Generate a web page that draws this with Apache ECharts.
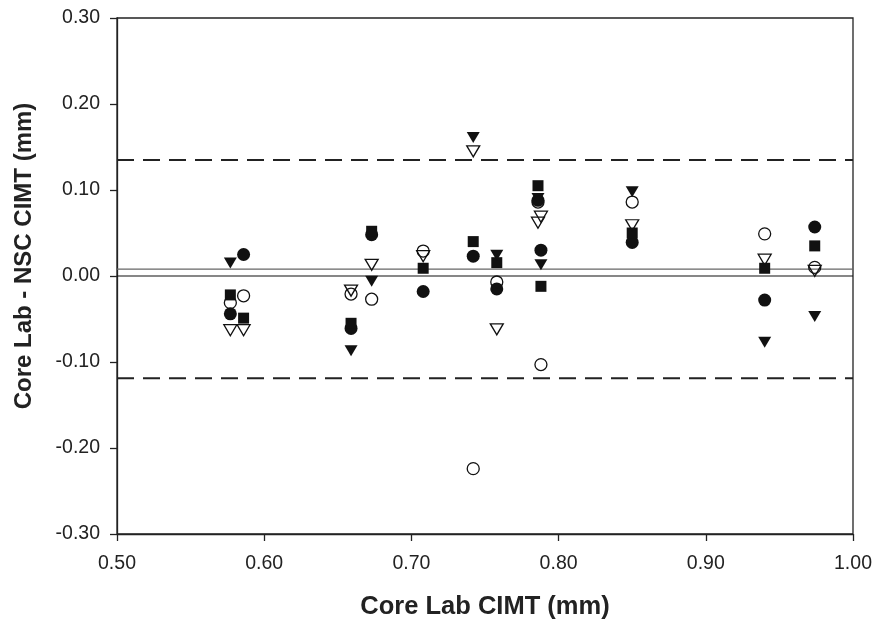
<!DOCTYPE html>
<html>
<head>
<meta charset="utf-8">
<script src="https://cdn.jsdelivr.net/npm/echarts@6/dist/echarts.min.js"></script>
<style>html,body{margin:0;padding:0;background:#fff}#c{width:874px;height:620px}</style>
</head>
<body>
<div id="c"></div>
<script>
// Subject x positions (Core Lab CIMT, mm)
const subjectX = [0.577, 0.586, 0.659, 0.673, 0.708, 0.742, 0.758, 0.786, 0.788, 0.850, 0.940, 0.974];
// Differences (Core Lab - NSC CIMT, mm) per reader series; null = not visible
const filledCircle   = [-0.044, 0.025, -0.061, 0.048, -0.018, 0.023, -0.015, 0.088, 0.030, 0.039, -0.028, 0.057];
const openCircle     = [-0.031, -0.023, -0.021, -0.027, 0.029, -0.224, -0.007, 0.086, -0.103, 0.086, 0.049, 0.010];
const filledSquare   = [-0.022, -0.049, -0.055, 0.052, 0.009, 0.040, 0.0155, 0.105, -0.012, 0.050, 0.009, 0.035];
const filledTriangle = [0.015, null, -0.087, -0.006, null, 0.161, 0.024, 0.090, 0.013, 0.098, -0.077, -0.047];
const openTriangle   = [-0.063, -0.063, -0.017, 0.013, 0.023, 0.145, -0.062, 0.062, 0.069, 0.059, 0.019, 0.006];
// Reference lines
const meanDiff = 0.008;
const upperLimit = 0.135;
const lowerLimit = -0.119;
const zeroLine = 0;
const xTicks = [0.50, 0.60, 0.70, 0.80, 0.90, 1.00];
const yTicks = [-0.30, -0.20, -0.10, 0.00, 0.10, 0.20, 0.30];

function pts(arr){ return subjectX.map((x,i)=> arr[i]===null ? null : [x, arr[i]]).filter(p=>p); }
function hline(v){ return [[xTicks[0], v],[xTicks[xTicks.length-1], v]]; }

const chart = echarts.init(document.getElementById('c'), null, {renderer:'canvas'});
const axisCol = '#222';
const font = 'Liberation Sans, Arial, sans-serif';
const filled = {color:'#111', borderColor:'#111', borderWidth:0, opacity:1};
const open = {color:'rgba(0,0,0,0)', borderColor:'#111', borderWidth:1.3, opacity:1};

chart.setOption({
  animation:false,
  grid:{left:117, right:21, top:18, bottom:86, containLabel:false, outerBoundsMode:'none', show:true, borderColor:axisCol, borderWidth:1.3, backgroundColor:'#fff'},
  xAxis:{
    type:'value', min:xTicks[0], max:xTicks[xTicks.length-1], interval:0.1,
    name:'Core Lab CIMT (mm)', nameLocation:'middle', nameGap:60,
    nameTextStyle:{fontFamily:font, fontWeight:'bold', fontSize:25.5, color:axisCol},
    axisLine:{show:true, onZero:false, lineStyle:{color:axisCol, width:1.3}},
    axisTick:{show:true, inside:false, length:7, lineStyle:{color:axisCol, width:1.3}},
    axisLabel:{fontFamily:font, fontSize:19.5, color:axisCol, margin:20, formatter:v=>v.toFixed(2)},
    splitLine:{show:false}
  },
  yAxis:{
    type:'value', min:yTicks[0], max:yTicks[yTicks.length-1], interval:0.1,
    name:'Core Lab - NSC CIMT (mm)', nameLocation:'middle', nameGap:81, nameRotate:90,
    nameTextStyle:{fontFamily:font, fontWeight:'bold', fontSize:24, color:axisCol, padding:[0,0,0,40]},
    axisLine:{show:true, onZero:false, lineStyle:{color:axisCol, width:1.3}},
    axisTick:{show:true, inside:false, length:7, lineStyle:{color:axisCol, width:1.3}},
    axisLabel:{fontFamily:font, fontSize:19.5, color:axisCol, margin:17, formatter:v=>v.toFixed(2)},
    splitLine:{show:false}
  },
  series:[
    {type:'line', data:hline(zeroLine), symbol:'none', silent:true, lineStyle:{color:'#111', width:1.2}, z:1},
    {type:'line', data:hline(meanDiff), symbol:'none', silent:true, lineStyle:{color:'#666', width:1.2}, z:1},
    {type:'line', data:hline(upperLimit), symbol:'none', silent:true, lineStyle:{color:'#222', width:2, type:[17,9]}, z:1},
    {type:'line', data:hline(lowerLimit), symbol:'none', silent:true, lineStyle:{color:'#222', width:2, type:[17,9]}, z:1},
    {type:'scatter', name:'filledCircle', data:pts(filledCircle), symbol:'circle', symbolSize:13, itemStyle:filled, z:3},
    {type:'scatter', name:'filledSquare', data:pts(filledSquare), symbol:'rect', symbolSize:11, itemStyle:filled, z:3},
    {type:'scatter', name:'filledTriangle', data:pts(filledTriangle), symbol:'triangle', symbolRotate:180, symbolSize:[13,11], itemStyle:filled, z:3},
    {type:'scatter', name:'openCircle', data:pts(openCircle), symbol:'circle', symbolSize:12, itemStyle:open, z:4},
    {type:'scatter', name:'openTriangle', data:pts(openTriangle), symbol:'triangle', symbolRotate:180, symbolSize:[13,11], itemStyle:open, z:4}
  ]
});
</script>
</body>
</html>
